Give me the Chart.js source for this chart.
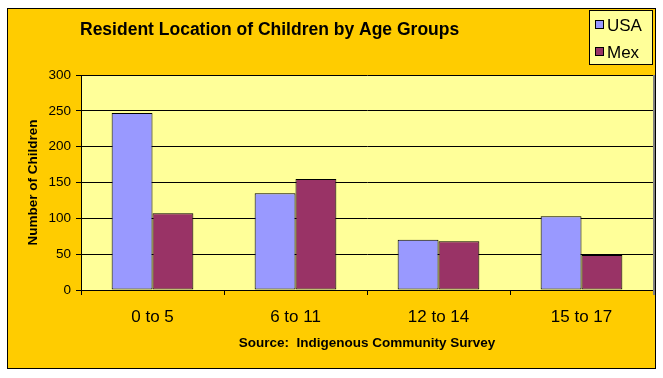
<!DOCTYPE html>
<html>
<head>
<meta charset="utf-8">
<script src="https://cdn.jsdelivr.net/npm/chart.js@4/dist/chart.umd.min.js"></script>
<style>
    html, body { margin: 0; padding: 0; background: #fff; }
    #wrap { width: 663px; height: 378px; }
</style>
</head>
<body>
<div id="wrap"><canvas id="chart" width="663" height="378"></canvas></div>
<script>
// chart values
const categories = ["0 to 5", "6 to 11", "12 to 14", "15 to 17"];
const usaValues = [247, 135, 70, 103];
const mexValues = [107, 155, 68, 49];
const yTicks = [0, 50, 100, 150, 200, 250, 300];

const GOLD = "#FFCC00";
const PLOT_BG = "#FFFF99";
const FONT = "Arial, 'Liberation Sans', sans-serif";

// frame, plot background, title, legend box
const excelLook = {
    id: "excelLook",
    beforeDraw(chart) {
        const { ctx, chartArea: a } = chart;
        ctx.save();
        ctx.fillStyle = "#fff";
        ctx.fillRect(0, 0, chart.width, chart.height);
        ctx.fillStyle = GOLD;
        ctx.fillRect(7, 8, 649, 361);
        ctx.strokeStyle = "#000";
        ctx.lineWidth = 1;
        ctx.strokeRect(7.5, 8.5, 648, 360);
        ctx.fillStyle = PLOT_BG;
        ctx.fillRect(a.left, a.top, a.right - a.left, a.bottom - a.top);
        ctx.restore();
    },
    afterDraw(chart) {
        const { ctx, chartArea: a } = chart;
        ctx.save();
        // right edge of plot area
        ctx.strokeStyle = "#808080";
        ctx.lineWidth = 2;
        ctx.beginPath();
        ctx.moveTo(a.right + 1, a.top);
        ctx.lineTo(a.right + 1, a.bottom + 5);
        ctx.stroke();

        // title
        ctx.fillStyle = "#000";
        ctx.font = "bold 17.5px " + FONT;
        ctx.textBaseline = "alphabetic";
        ctx.textAlign = "left";
        ctx.fillText("Resident Location of Children by Age Groups", 80, 35);

        // legend
        const lx = 589, ly = 10, lw = 63, lh = 54;
        ctx.fillStyle = PLOT_BG;
        ctx.fillRect(lx, ly, lw, lh);
        ctx.strokeStyle = "#000";
        ctx.lineWidth = 1;
        ctx.strokeRect(lx + 0.5, ly + 0.5, lw, lh);
        ctx.font = "17px " + FONT;
        ctx.textBaseline = "middle";
        chart.data.datasets.forEach((ds, i) => {
            const cy = ly + 15 + i * 27;
            ctx.fillStyle = ds.backgroundColor;
            ctx.fillRect(lx + 6, cy - 5, 9, 9);
            ctx.strokeRect(lx + 6.5, cy - 4.5, 8, 8);
            ctx.fillStyle = "#000";
            ctx.fillText(ds.label, lx + 18, cy + 1);
        });
        ctx.restore();
    }
};

new Chart(document.getElementById("chart"), {
    type: "bar",
    data: {
        labels: categories,
        datasets: [
            { label: "USA", data: usaValues, backgroundColor: "#9999FF" },
            { label: "Mex", data: mexValues, backgroundColor: "#993366" }
        ]
    },
    options: {
        responsive: false,
        animation: false,
        layout: { padding: { left: 20, top: 75, right: 10, bottom: 0 } },
        datasets: {
            bar: {
                borderColor: "#000",
                borderWidth: 1,
                borderSkipped: false,
                categoryPercentage: 2 / 3.5,
                barPercentage: 1
            }
        },
        plugins: {
            legend: { display: false },
            title: { display: false },
            tooltip: { enabled: false }
        },
        scales: {
            x: {
                afterFit(scale) { scale.height = 88; },
                grid: { offset: true, drawOnChartArea: false, drawTicks: true, tickLength: 5, color: "#000" },
                border: { color: "#000" },
                ticks: {
                    color: "#000",
                    padding: 12,
                    font: { family: FONT, size: 17 }
                },
                title: {
                    display: true,
                    text: "Source:  Indigenous Community Survey",
                    color: "#000",
                    padding: { top: 0, bottom: 27 },
                    font: { family: FONT, size: 13.5, weight: "bold" }
                }
            },
            y: {
                min: 0,
                max: 300,
                afterFit(scale) { scale.width = 61; },
                afterBuildTicks(scale) { scale.ticks = yTicks.map(v => ({ value: v })); },
                grid: { color: "#000", tickLength: 5 },
                border: { color: "#000" },
                ticks: {
                    color: "#000",
                    padding: 5,
                    font: { family: FONT, size: 13.5 }
                },
                title: {
                    display: true,
                    text: "Number of Children",
                    color: "#000",
                    padding: { top: 5, bottom: 0 },
                    font: { family: FONT, size: 13.5, weight: "bold" }
                }
            }
        }
    },
    plugins: [excelLook]
});
</script>
</body>
</html>
